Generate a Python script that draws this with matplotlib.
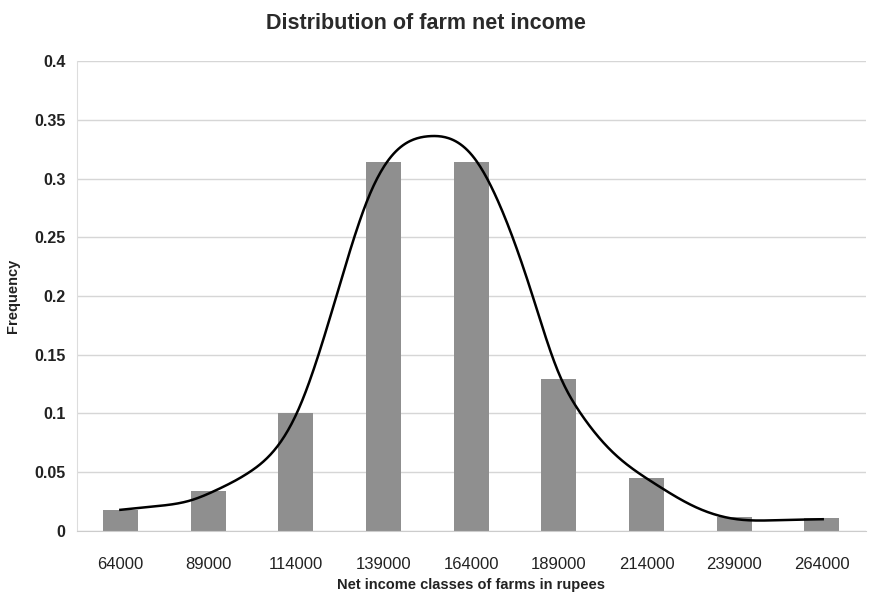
import numpy as np
import matplotlib
matplotlib.use("Agg")
import matplotlib.pyplot as plt

categories = ["64000", "89000", "114000", "139000", "164000", "189000", "214000", "239000", "264000"]
frequency = [0.018, 0.034, 0.100, 0.314, 0.314, 0.129, 0.045, 0.012, 0.011]

# fitted curve (position in class units, frequency)
curve_pos = [0.0, 0.4, 0.8, 1.1, 1.47, 1.78, 2.04, 2.46, 2.83, 3.06, 3.52,
             4.05, 4.23, 4.68, 4.99, 5.25, 5.63, 6.08, 6.57, 7.03, 7.51, 8.01]
curve_val = [0.018, 0.021, 0.026, 0.035, 0.050, 0.071, 0.105, 0.199, 0.284, 0.316, 0.336,
             0.316, 0.293, 0.205, 0.136, 0.100, 0.066, 0.041, 0.020, 0.010, 0.0092, 0.010]


def natural_spline(xs, ys, n=600):
    xs = np.asarray(xs, float); ys = np.asarray(ys, float)
    m = len(xs)
    h = np.diff(xs)
    A = np.zeros((m, m)); b = np.zeros(m)
    A[0, 0] = A[-1, -1] = 1
    for i in range(1, m - 1):
        A[i, i - 1] = h[i - 1]
        A[i, i] = 2 * (h[i - 1] + h[i])
        A[i, i + 1] = h[i]
        b[i] = 6 * ((ys[i + 1] - ys[i]) / h[i] - (ys[i] - ys[i - 1]) / h[i - 1])
    M = np.linalg.solve(A, b)
    xx = np.linspace(xs[0], xs[-1], n)
    k = np.clip(np.searchsorted(xs, xx) - 1, 0, m - 2)
    x0, x1 = xs[k], xs[k + 1]
    hk = x1 - x0
    yy = (M[k] * (x1 - xx) ** 3 / (6 * hk) + M[k + 1] * (xx - x0) ** 3 / (6 * hk)
          + (ys[k] / hk - M[k] * hk / 6) * (x1 - xx)
          + (ys[k + 1] / hk - M[k + 1] * hk / 6) * (xx - x0))
    return xx, yy


fig = plt.figure(figsize=(8.7, 5.97), dpi=100)
ax = fig.add_axes([0.088, 0.1106, 0.907, 0.7872])

x = np.arange(len(categories))
ax.bar(x, frequency, width=0.4, color="#8f8f8f", zorder=2)
cx, cy = natural_spline(curve_pos, curve_val)
ax.plot(cx, cy, color="black", linewidth=1.8, zorder=3)

ax.set_xlim(-0.5, len(categories) - 0.5)
ax.set_ylim(0, 0.4)
ax.set_yticks([0, 0.05, 0.1, 0.15, 0.2, 0.25, 0.3, 0.35, 0.4])
ax.set_yticklabels(["0", "0.05", "0.1", "0.15", "0.2", "0.25", "0.3", "0.35", "0.4"],
                   fontsize=11.5, fontweight="bold", family="Liberation Sans", color="#222222")
ax.set_xticks(x)
ax.set_xticklabels(categories, fontsize=12, family="Liberation Sans", color="#222222")
ax.tick_params(axis="y", length=0, pad=8)
ax.tick_params(axis="x", length=0, pad=19)
ax.grid(axis="y", color="#d6d6d6", linewidth=1, zorder=0)
for s in ["top", "right"]:
    ax.spines[s].set_visible(False)
ax.spines["left"].set_color("#dddddd")
ax.spines["bottom"].set_color("#cccccc")

ax.set_xlabel("Net income classes of farms in rupees", fontsize=10.5, fontweight="bold",
              family="Liberation Sans", color="#222222", labelpad=4)
ax.set_ylabel("Frequency", fontsize=10.5, fontweight="bold", family="Liberation Sans",
              color="#222222", labelpad=10)
fig.text(0.49, 0.96, "Distribution of farm net income", ha="center", va="center",
         fontsize=15.5, fontweight="bold", family="Liberation Sans", color="#2a2a2a")

fig.savefig("out.png", dpi=100)
